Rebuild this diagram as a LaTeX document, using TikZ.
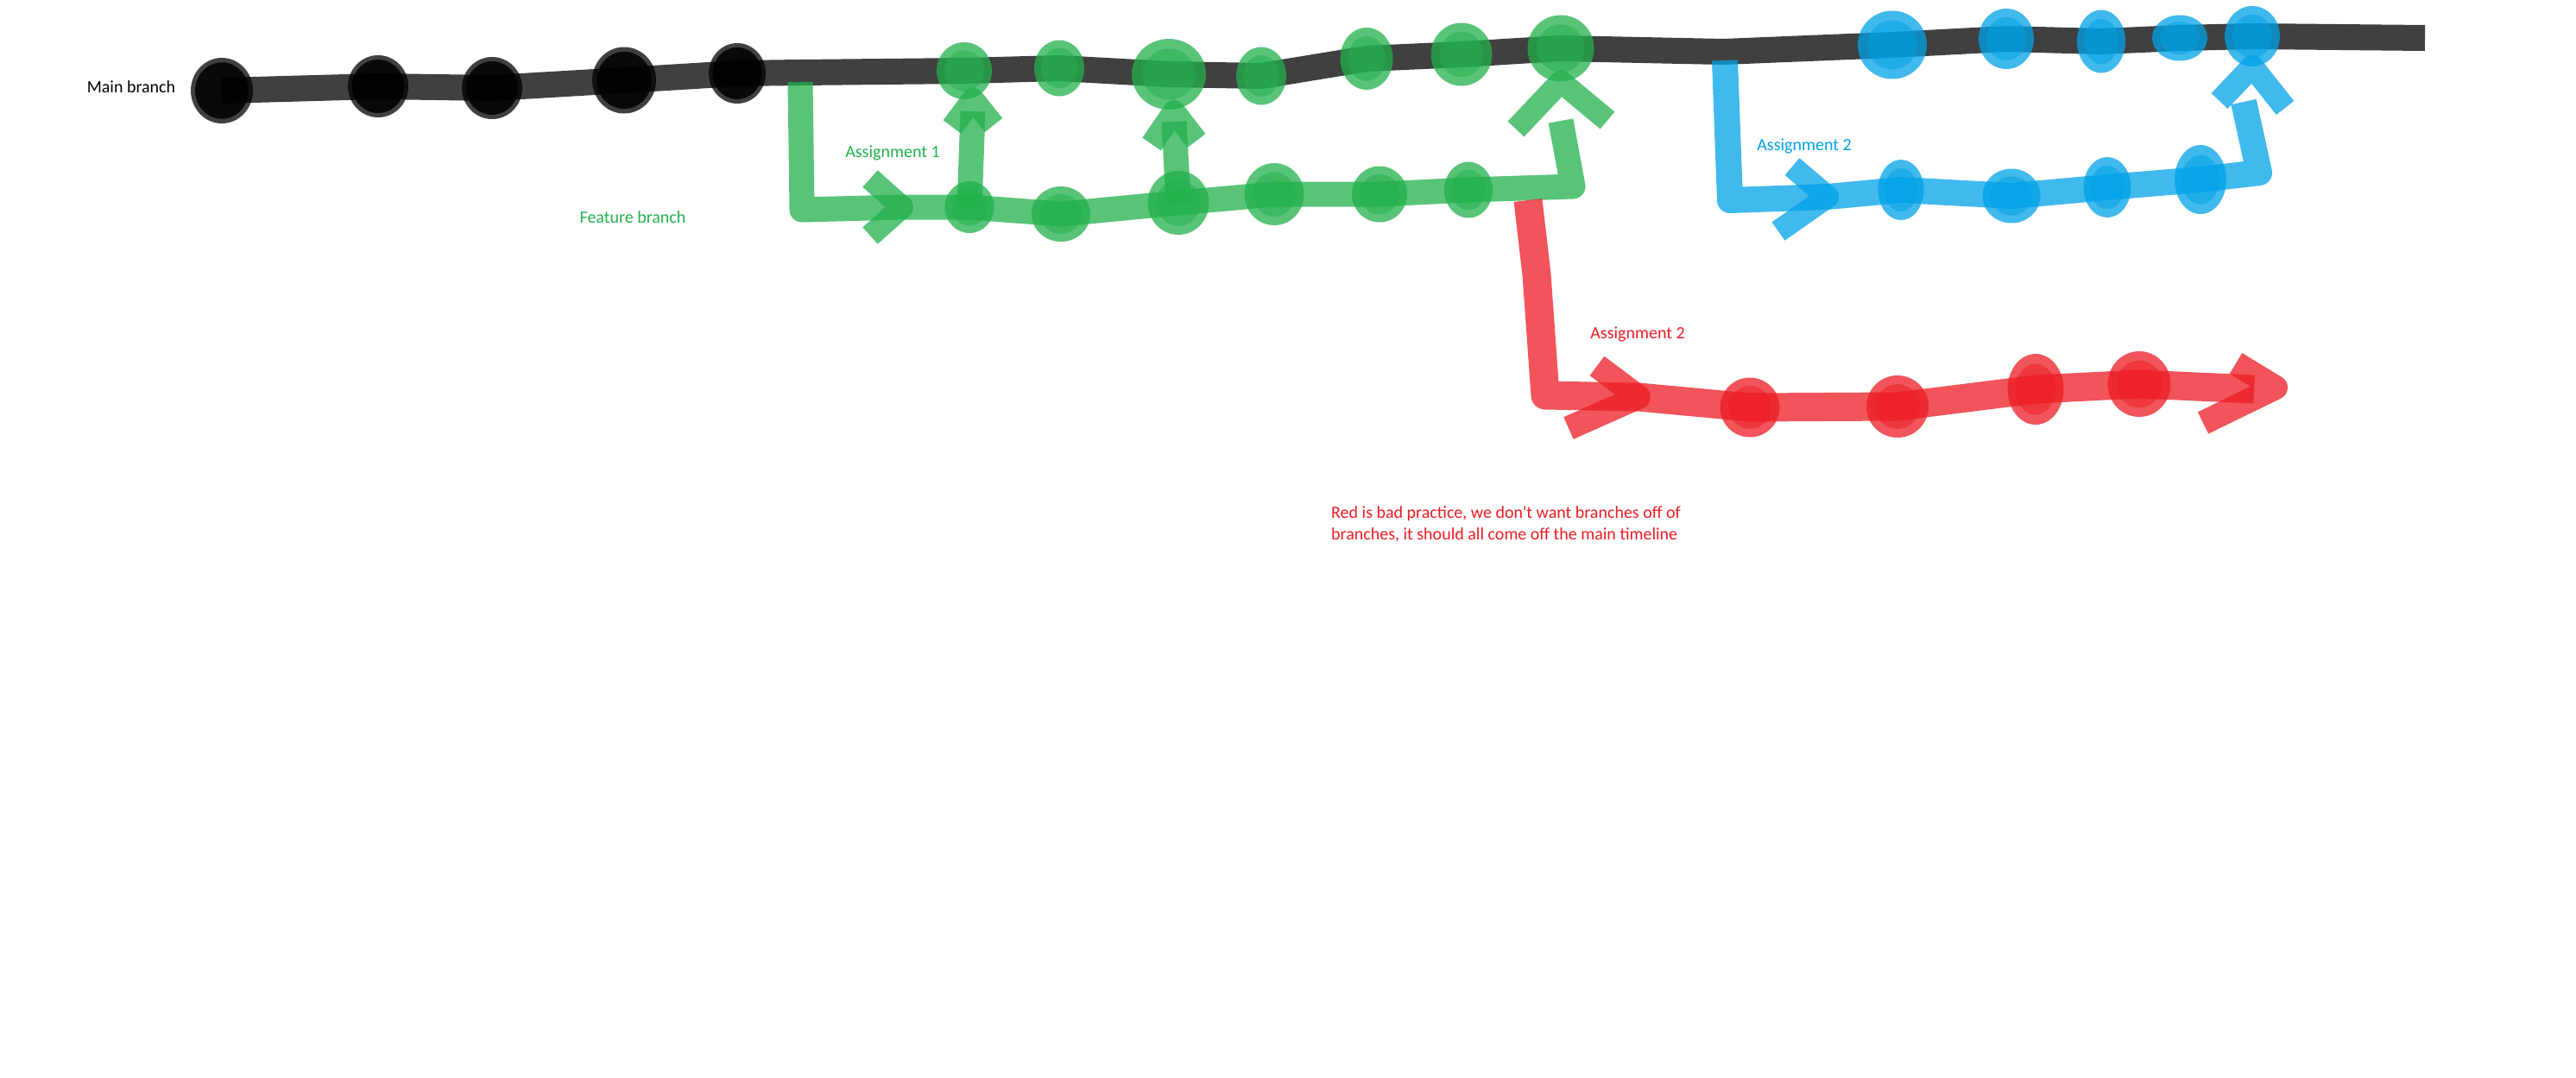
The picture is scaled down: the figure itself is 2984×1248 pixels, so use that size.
\documentclass[tikz,border=0pt]{standalone}
\usepackage{fontspec}
\setmainfont{Carlito}
\usetikzlibrary{shapes.geometric,calc}
\pgfdeclarelayer{back}
\pgfdeclarelayer{lines}
\pgfsetlayers{back,lines,main}
\definecolor{ggreen}{HTML}{22B14C}
\definecolor{gblue}{HTML}{00A2E8}
\definecolor{gred}{HTML}{ED1C24}
\tikzset{
  pen/.style={line width=30pt, draw opacity=0.75, line join=round, line cap=butt},
  kline/.style={pen, draw=black},
  gline/.style={pen, draw=ggreen, line width=29pt},
  bline/.style={pen, draw=gblue, line width=30pt},
  rline/.style={pen, draw=gred, line width=33pt},
  gchev/.style={gline, line width=26pt},
  bchev/.style={bline, line width=26pt},
  rchev/.style={rline, line width=28pt},
  sz/.style 2 args={minimum width=#1pt, minimum height=#2pt},
  dot/.style n args={3}{ellipse, draw=none, inner sep=0pt, outer sep=0pt, fill=#1, fill opacity=0.75,
    path picture={\path[fill=#1, fill opacity=#2] let \p1=(path picture bounding box.north east), \p2=(path picture bounding box.south west) in (path picture bounding box.center) ellipse [x radius={#3*(\x1-\x2)}, y radius={#3*(\y1-\y2)}];}},
  kdot/.style={dot={black}{0.85}{0.43}},
  gdot/.style={dot={ggreen}{0.5}{0.36}},
  bdot/.style={dot={gblue}{0.5}{0.36}},
  rdot/.style={dot={gred}{0.5}{0.36}},
  lbl/.style={font=\fontsize{20pt}{25pt}\selectfont, inner sep=0pt, anchor=base},
}
\begin{document}
\begin{tikzpicture}[x=1pt,y=-1pt]
\begin{pgfonlayer}{back}
\fill[white] (0,0) rectangle (2984,1248);
\end{pgfonlayer}
\useasboundingbox (0,0) rectangle (2984,1248);

% main branch commits
\node[kdot, sz={72}{76}] (m1) at (257,105) {};
\node[kdot, sz={70}{72}] (m2) at (438,100) {};
\node[kdot, sz={70}{72}] (m3) at (570,102) {};
\node[kdot, sz={74}{77}] (m4) at (723,93) {};
\node[kdot, sz={66}{70}] (m5) at (854,85) {};
\coordinate (fa) at (927,84);
% green merged commits on main
\node[gdot, sz={64}{66}] (gt1) at (1117,82) {};
\node[gdot, sz={58}{65}] (gt2) at (1227,79) {};
\node[gdot, sz={86}{82}] (gt3) at (1354,86) {};
\node[gdot, sz={58}{67}] (gt4) at (1461,88) {};
\node[gdot, sz={61}{72}] (gt5) at (1583,68) {};
\node[gdot, sz={71}{73}] (gt6) at (1693,63) {};
\node[gdot, sz={77}{77}] (gt7) at (1808,56) {};
\coordinate (fb) at (1996,60);
% blue merged commits on main
\node[bdot, sz={80}{79}] (bt1) at (2192,52) {};
\node[bdot, sz={64}{70}] (bt2) at (2324,45) {};
\node[bdot, sz={56}{73}] (bt3) at (2434,48) {};
\node[bdot, sz={64}{53}] (bt4) at (2525,44) {};
\node[bdot, sz={64}{70}] (bt5) at (2609,42) {};
\coordinate (mend) at (2809,44);

% feature branch (green)
\coordinate (gs) at (927,95);
\coordinate (gc1) at (929,243);
\coordinate (gch) at (1045,240);
\node[gdot, sz={57}{60}] (gb1) at (1123,240) {};
\node[gdot, sz={68}{64}] (gb2) at (1229,248) {};
\node[gdot, sz={71}{74}] (gb3) at (1365,235) {};
\node[gdot, sz={69}{72}] (gb4) at (1476,225) {};
\node[gdot, sz={64}{65}] (gb5) at (1598,225) {};
\node[gdot, sz={56}{65}] (gb6) at (1701,220) {};
\coordinate (gc2) at (1822,216);
\coordinate (gc3) at (1808,140);

% red branch
\coordinate (rs) at (1770,232);
\coordinate (rc1) at (1780,318);
\coordinate (rc2) at (1790,458);
\coordinate (rch) at (1898,460);
\node[rdot, sz={69}{69}] (r1) at (2027,472) {};
\node[rdot, sz={72}{72}] (r2) at (2198,471) {};
\node[rdot, sz={65}{82}] (r3) at (2358,451) {};
\node[rdot, sz={73}{76}] (r4) at (2478,445) {};
\coordinate (rtip) at (2636,449);

% blue branch
\coordinate (bs) at (1998,70);
\coordinate (bc1) at (2004,232);
\coordinate (bch) at (2117,228);
\node[bdot, sz={53}{70}] (b1) at (2202,220) {};
\node[bdot, sz={67}{63}] (b2) at (2330,227) {};
\node[bdot, sz={55}{70}] (b3) at (2441,217) {};
\node[bdot, sz={60}{80}] (b4) at (2549,208) {};
\coordinate (bc2) at (2617,200);
\coordinate (bc3) at (2599,118);

\begin{pgfonlayer}{lines}
\draw[kline] (m1.center) -- (m2.center) -- (m3.center) -- (m4.center) -- (m5.center) -- (fa)
  -- (gt1.center) -- (gt2.center) -- (gt3.center) -- (gt4.center) -- (gt5.center) -- (gt6.center) -- (gt7.center)
  -- (fb) -- (bt1.center) -- (bt2.center) -- (bt3.center) -- (bt4.center) -- (bt5.center) -- (mend);

\draw[gline] (gs) -- (gc1) -- (gch) -- (gb1.center) -- (gb2.center) -- (gb3.center) -- (gb4.center)
  -- (gb5.center) -- (gb6.center) -- (gc2) -- (gc3);
\draw[gchev] (1008,207) -- (gch) -- (1008,273);
\draw[gline] (gb1.center) -- ($(gt1.south)+(10,14)$);
\draw[gchev] ($(gt1.south)+(-14,32)$) -- ($(gt1.south)+(10,0)$) -- ($(gt1.south)+(34,30)$);
\draw[gline] (gb3.center) -- ($(gt3.south)+(6,14)$);
\draw[gchev] ($(gt3.south)+(-20,40)$) -- ($(gt3.south)+(6,2)$) -- ($(gt3.south)+(32,36)$);
\draw[gchev] ($(gt7.south)+(-52,55)$) -- (gt7.south) -- ($(gt7.south)+(54,45)$);

\draw[rline] (rs) -- (rc1) -- (rc2) -- (rch) -- (r1.center) -- (r2.center) -- (r3.center) -- (r4.center) -- ($(rtip)+(-25,2)$);
\draw[rchev] (1850,424) -- (rch) -- (1817,496);
\draw[rchev] (2590,421) -- (rtip) -- (2552,490);

\draw[bline] (bs) -- (bc1) -- (bch) -- (b1.center) -- (b2.center) -- (b3.center) -- (b4.center) -- (bc2) -- (bc3);
\draw[bchev] (2076,193) -- (bch) -- (2060,268);
\draw[bchev] ($(bt5.south)+(-38,40)$) -- (bt5.south) -- ($(bt5.south)+(38,48)$);
\end{pgfonlayer}

% labels
\node[lbl] (tmain) at (152,107) {Main branch};
\node[lbl, text=ggreen] (tfeat) at (733,258) {Feature branch};
\node[lbl, text=ggreen] (ta1) at (1034,182) {Assignment 1};
\node[lbl, text=gblue] (ta2b) at (2090,174) {Assignment 2};
\node[lbl, text=gred] (ta2r) at (1897,392) {Assignment 2};
\node[lbl, text=gred, anchor=north west, align=left] (tnote) at (1542,586)
  {Red is bad practice, we don\textquotesingle t want branches off of\\branches, it should all come off the main timeline};
\end{tikzpicture}
\end{document}
